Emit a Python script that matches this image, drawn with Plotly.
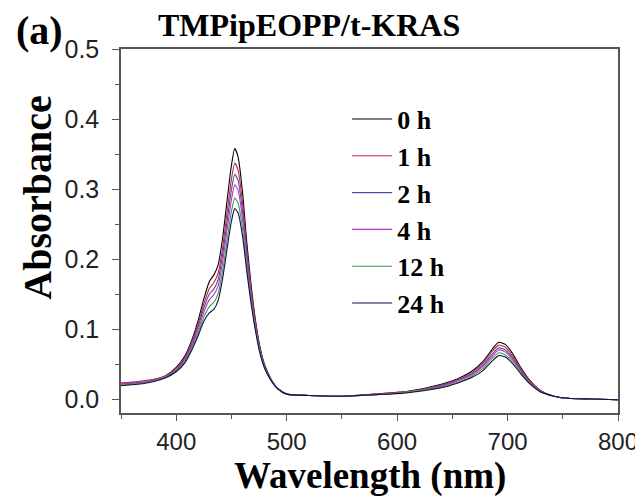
import plotly.graph_objects as go

# wavelength grid (nm)
wavelength = [350, 365, 380, 390, 400, 408, 415, 420, 425, 430, 434, 438, 442, 446, 450,
              453, 456, 460, 464, 468, 472, 476, 480, 486, 492, 500, 520, 550, 580, 610,
              640, 655, 668, 678, 686, 692, 698, 705, 712, 720, 730, 742, 755, 775, 800]

abs_0h = [.022, .024, .028, .033, .045, .062, .088, .113, .143, .168, .177, .192, .230, .283, .334,
          .358, .346, .296, .222, .160, .110, .073, .049, .028, .015, .007, .005, .004, .007, .011,
          .021, .029, .040, .054, .071, .081, .078, .064, .045, .027, .012, .004, .001, .000, -.001]
abs_1h = [.023, .025, .028, .033, .044, .060, .085, .108, .136, .158, .166, .180, .216, .266, .314,
          .337, .327, .281, .212, .154, .107, .071, .048, .028, .015, .007, .005, .004, .007, .011,
          .020, .028, .038, .052, .068, .077, .074, .061, .043, .026, .012, .004, .001, .000, -.001]
abs_2h = [.021, .023, .027, .032, .042, .058, .082, .104, .130, .150, .157, .171, .206, .253, .299,
          .321, .312, .269, .204, .149, .104, .069, .047, .027, .015, .007, .005, .004, .006, .010,
          .019, .027, .036, .049, .064, .073, .070, .058, .041, .025, .011, .004, .001, .000, -.001]
abs_4h = [.022, .024, .027, .032, .041, .056, .079, .100, .124, .142, .149, .162, .196, .241, .285,
          .306, .298, .258, .197, .145, .101, .068, .046, .027, .015, .007, .005, .004, .006, .010,
          .018, .026, .035, .047, .061, .070, .067, .056, .040, .024, .011, .004, .001, .000, -.001]
abs_12h = [.020, .022, .026, .031, .040, .054, .076, .095, .117, .132, .138, .151, .183, .226, .268,
           .287, .280, .244, .188, .139, .098, .066, .045, .026, .014, .007, .005, .004, .006, .010,
           .017, .024, .033, .044, .058, .066, .063, .053, .038, .023, .010, .004, .001, .000, -.001]
abs_24h = [.019, .021, .025, .030, .039, .052, .073, .091, .111, .123, .128, .141, .172, .214, .254,
           .272, .266, .233, .181, .134, .095, .064, .044, .026, .014, .007, .005, .004, .006, .009,
           .016, .023, .031, .041, .054, .062, .060, .050, .036, .022, .010, .004, .001, .000, -.001]

labels = ["0 h", "1 h", "2 h", "4 h", "12 h", "24 h"]
series = [abs_0h, abs_1h, abs_2h, abs_4h, abs_12h, abs_24h]
colors = ["#000000", "#c0283c", "#4c4ca0", "#c030c8", "#3f9a4f", "#10104a"]

serif = "Liberation Serif"
sans = "Liberation Sans"
axcol = "#555555"

fig = go.Figure()
for name, ys, c in zip(labels, series, colors):
    fig.add_trace(go.Scatter(x=wavelength, y=ys, name=name, mode="lines",
                             line=dict(color=c, width=1.1, shape="spline", smoothing=0.6)))

# page body adds an 8px offset, so the figure is 635x491
fig.update_layout(
    width=635, height=491,
    margin=dict(l=113, r=25, t=41, b=86, autoexpand=False),
    paper_bgcolor="white", plot_bgcolor="white",
    showlegend=True,
    legend=dict(x=0.455, y=0.872, xanchor="left", yanchor="top", itemwidth=40,
                bgcolor="rgba(0,0,0,0)", tracegroupgap=0,
                font=dict(family=serif, size=26, color="black", weight="bold")),
    annotations=[
        dict(text="<b>TMPipEOPP/t-KRAS</b>", xref="paper", yref="paper", x=0.378, y=1.065,
             xanchor="center", yanchor="middle", showarrow=False,
             font=dict(family=serif, size=32, color="black")),
        dict(text="<b>(a)</b>", xref="paper", yref="paper", x=-0.163, y=1.05,
             xanchor="center", yanchor="middle", showarrow=False,
             font=dict(family=serif, size=40, color="black")),
        dict(text="<b>Absorbance</b>", xref="paper", yref="paper", x=-0.168, y=0.59,
             xanchor="center", yanchor="middle", showarrow=False, textangle=-90,
             font=dict(family=serif, size=40, color="black")),
        dict(text="<b>Wavelength (nm)</b>", xref="paper", yref="paper", x=0.5, y=-0.172,
             xanchor="center", yanchor="middle", showarrow=False,
             font=dict(family=serif, size=37, color="black")),
    ],
)

fig.update_xaxes(range=[350, 800], dtick=100, tick0=0, showgrid=False, zeroline=False,
                 automargin=False, showline=True, linecolor=axcol, linewidth=1.5, mirror=True,
                 ticks="outside", ticklen=6, tickcolor=axcol, tickwidth=1.2,
                 minor=dict(dtick=50, tick0=0, ticks="outside", ticklen=4, tickcolor=axcol),
                 ticklabelstandoff=0,
                 tickfont=dict(family=sans, size=24, color="#222222"))
fig.update_yaxes(range=[-0.02, 0.5001], dtick=0.1, tick0=0, tickformat=".1f", showgrid=False,
                 automargin=False, zeroline=False, showline=True, linecolor=axcol, linewidth=1.5,
                 mirror=True, ticks="outside", ticklen=7, tickcolor=axcol, tickwidth=1.2,
                 minor=dict(dtick=0.05, tick0=0, ticks="outside", ticklen=4, tickcolor=axcol),
                 ticklabelstandoff=8,
                 tickfont=dict(family=sans, size=25, color="#222222"))

fig.write_html("out.html")
